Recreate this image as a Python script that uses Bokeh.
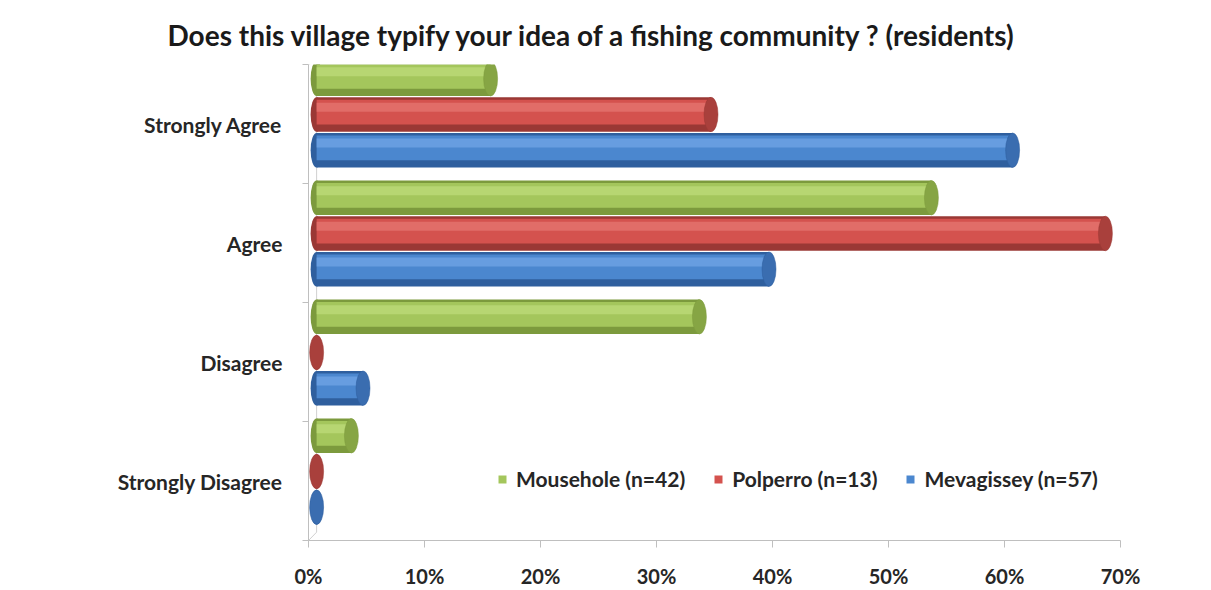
from bokeh.plotting import figure
from bokeh.models import (ColumnDataSource, FixedTicker, NumeralTickFormatter,
                          Legend, LegendItem, Range1d)
from bokeh.embed import file_html
from bokeh.resources import INLINE

# ---- data ----
categories = ["Strongly Agree", "Agree", "Disagree", "Strongly Disagree"]
series_names = ["Mousehole (n=42)", "Polperro (n=13)", "Mevagissey (n=57)"]
mousehole = [0.15, 0.53, 0.33, 0.03]
polperro = [0.34, 0.68, 0.00, 0.00]
mevagissey = [0.60, 0.39, 0.04, 0.00]
x_ticks = [0.0, 0.1, 0.2, 0.3, 0.4, 0.5, 0.6, 0.7]
title_text = "Does this village typify your idea of a fishing community ? (residents)"

# ---- style ----
series_values = [mousehole, polperro, mevagissey]
# (dark edge, main, highlight, end cap, legend)
palette = [
    ("#7c9a3d", "#a4c65c", "#bbda78", "#86a544", "#9bbb59"),
    ("#9a3835", "#d4524e", "#e3746f", "#a9403c", "#c0504d"),
    ("#2f5f9e", "#4b87cf", "#6ea3e3", "#3a6db0", "#4f81bd"),
]
offsets = [0.38, 0.08, -0.22]
bar_h = 0.29
depth = 0.007
font = "Lato"
n = len(categories)
x_max = 0.70

p = figure(width=1211, height=590, output_backend="svg", toolbar_location=None,
           x_range=Range1d(0, x_max), y_range=Range1d(0, n),
           min_border_left=308, min_border_right=91,
           min_border_top=64, min_border_bottom=50,
           outline_line_color=None, background_fill_color="white",
           border_fill_color="white")
p.xgrid.grid_line_color = None
p.ygrid.grid_line_color = None

# back wall (3D depth) line
p.segment(x0=[depth], y0=[0.07], x1=[depth], y1=[n + 0.03],
          line_color="#d0d0d0", line_width=1)
p.segment(x0=[0, 0], y0=[0, n], x1=[depth, depth], y1=[0.07, n + 0.03],
          line_color="#d0d0d0", line_width=1)

legend_items = []
for s, vals in enumerate(series_values):
    dark, main, light, cap, leg = palette[s]
    ys = [n - i - 0.5 + offsets[s] for i in range(n)]
    src = ColumnDataSource(dict(
        y=ys, y_mid=[y + 0.02 for y in ys], y_hi=[y + 0.06 for y in ys],
        left=[depth] * n, right=[v + depth for v in vals]))
    p.ellipse(x="left", y="y", width=12, height=bar_h, width_units="screen",
              source=src, fill_color=dark, line_color=None)
    p.hbar(y="y", height=bar_h, left="left", right="right", source=src,
           fill_color=dark, line_color=None)
    r = p.hbar(y="y_mid", height=bar_h * 0.72, left="left", right="right",
               source=src, fill_color=main, line_color=None)
    p.hbar(y="y_hi", height=bar_h * 0.26, left="left", right="right",
           source=src, fill_color=light, line_color=None, fill_alpha=0.8)
    p.ellipse(x="right", y="y", width=14, height=bar_h, width_units="screen",
              source=src, fill_color=cap, line_color=dark, line_width=0.5)
    legend_items.append(LegendItem(label=series_names[s], renderers=[r]))

# axes
p.xaxis.ticker = FixedTicker(ticks=x_ticks)
p.xaxis.formatter = NumeralTickFormatter(format="0%")
p.xaxis.axis_line_color = "#bfbfbf"
p.xaxis.major_tick_line_color = "#bfbfbf"
p.xaxis.major_tick_out = 7
p.xaxis.major_tick_in = 0
p.xaxis.minor_tick_line_color = None
p.xaxis.major_label_text_font = font
p.xaxis.major_label_text_font_style = "bold"
p.xaxis.major_label_text_font_size = "20px"
p.xaxis.major_label_text_color = "#262626"
p.xaxis.major_label_standoff = 16

centers = [n - i - 0.5 for i in range(n)]
p.yaxis.ticker = FixedTicker(ticks=centers, minor_ticks=list(range(n + 1)))
p.yaxis.major_label_overrides = {c: categories[i] for i, c in enumerate(centers)}
p.yaxis.axis_line_color = "#bfbfbf"
p.yaxis.major_tick_line_color = None
p.yaxis.minor_tick_line_color = "#bfbfbf"
p.yaxis.minor_tick_out = 6
p.yaxis.minor_tick_in = 0
p.yaxis.major_label_text_font = font
p.yaxis.major_label_text_font_style = "bold"
p.yaxis.major_label_text_font_size = "21px"
p.yaxis.major_label_text_color = "#262626"
p.yaxis.major_label_standoff = 20

# title: left-aligned, shifted left so it is centred over the whole picture
p.title.text = title_text
p.title.align = "left"
p.title.offset = -141
p.title.text_font = font
p.title.text_font_style = "bold"
p.title.text_font_size = "28px"
p.title.text_color = "#1a1a1a"
p.title.standoff = 25

legend = Legend(items=legend_items, orientation="horizontal",
                location=(189, 49), glyph_width=10, glyph_height=10,
                label_text_font=font, label_text_font_style="bold",
                label_text_font_size="21px", label_text_color="#262626",
                spacing=28, label_standoff=9, padding=0,
                border_line_color=None, background_fill_alpha=0)
p.add_layout(legend)

open("out.html", "w").write(file_html(p, INLINE))
